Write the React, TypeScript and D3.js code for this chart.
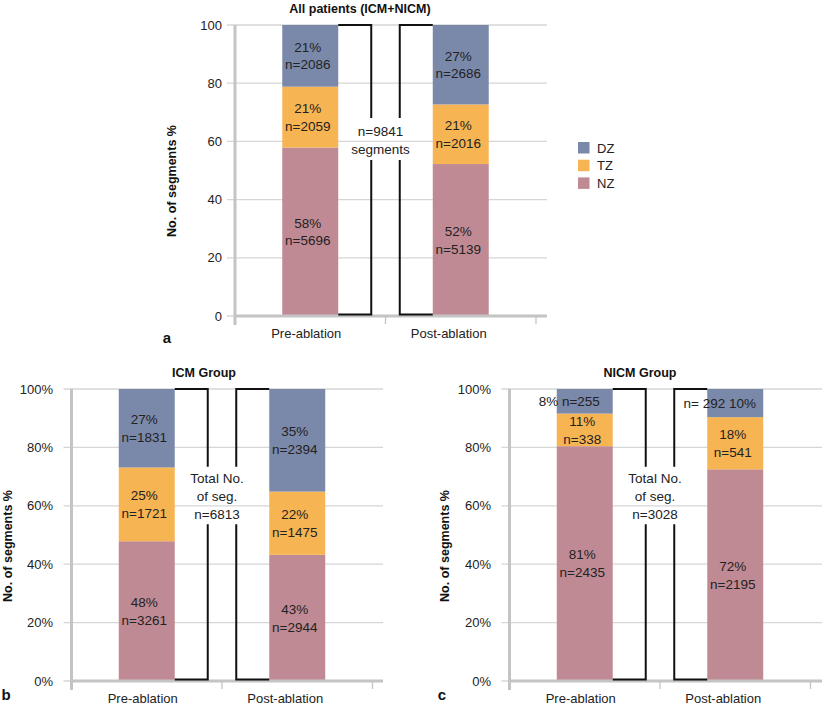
import React from "react";
import * as d3 from "d3";

const categories = ["Pre-ablation", "Post-ablation"];
const zoneKeys = ["NZ", "TZ", "DZ"];
const legendKeys = ["DZ", "TZ", "NZ"];
const yTicks = [0, 20, 40, 60, 80, 100];

// All patients
const allNZ = [5696, 5139];
const allTZ = [2059, 2016];
const allDZ = [2086, 2686];
const allNZPct = ["58%", "52%"];
const allTZPct = ["21%", "21%"];
const allDZPct = ["21%", "27%"];

// ICM group
const icmNZ = [3261, 2944];
const icmTZ = [1721, 1475];
const icmDZ = [1831, 2394];
const icmNZPct = ["48%", "43%"];
const icmTZPct = ["25%", "22%"];
const icmDZPct = ["27%", "35%"];

// NICM group
const nicmNZ = [2435, 2195];
const nicmTZ = [338, 541];
const nicmDZ = [255, 292];
const nicmNZPct = ["81%", "72%"];
const nicmTZPct = ["11%", "18%"];
const nicmDZLine = ["8% n=255", "n= 292 10%"];

const colors: Record<string, string> = { DZ: "#7a89aa", TZ: "#f7b452", NZ: "#c08a94" };
const FONT = "'Liberation Sans', Arial, Helvetica, sans-serif";

type PanelProps = {
  x0: number; yTop: number; yBot: number; gridRight: number;
  title: string; titleX: number; titleY: number;
  yTitleX: number; yTitleY: number; tickGap: number; pct: boolean;
  letter: string; letterX: number; letterY: number;
  nz: number[]; tz: number[]; dz: number[];
  nzPct: string[]; tzPct: string[]; dzPct?: string[]; dzSingle?: string[];
  totalLines: string[]; gap: [number, number]; textCenter: number;
};

function Panel(p: PanelProps) {
  const x = d3.scaleBand<string>().domain(categories).range([p.x0, p.x0 + 301]).padding(0);
  const y = d3.scaleLinear().domain([0, 100]).range([p.yBot, p.yTop]);
  const bw = x.bandwidth();
  const barW = bw * 0.372;
  const rows = categories.map((c, i) => ({ cat: c, NZ: p.nz[i], TZ: p.tz[i], DZ: p.dz[i] }));
  const series = d3.stack<any>().keys(zoneKeys).offset(d3.stackOffsetExpand)(rows);
  const labels: Record<string, string[]> = {
    NZ: p.nzPct, TZ: p.tzPct, DZ: p.dzPct || [],
  };
  const counts: Record<string, number[]> = { NZ: p.nz, TZ: p.tz, DZ: p.dz };

  const preRight = (x(categories[0]) as number) + (bw + barW) / 2;
  const postLeft = (x(categories[1]) as number) + (bw - barW) / 2;
  const bL = preRight + 33;
  const bR = postLeft - 33;
  const yT = y(100);
  const yB = y(0) - 1.5;
  const gTop = y(p.gap[1]);
  const gBot = y(p.gap[0]);
  const tc = y(p.textCenter);
  const tx = (bL + bR) / 2 - 5;

  return (
    <g fontFamily={FONT}>
      {yTicks.map((t) => (
        <g key={t}>
          <line x1={p.x0 - 8} x2={p.gridRight} y1={y(t)} y2={y(t)} stroke="#d6d6d6" strokeWidth={1.3} />
          <text x={p.x0 - p.tickGap} y={y(t)} dy="0.35em" textAnchor="end" fontSize={13} fill="#222">
            {p.pct ? `${t}%` : `${t}`}
          </text>
        </g>
      ))}
      {series.map((s) =>
        s.map((d, i) => {
          const bx = (x(categories[i]) as number) + (bw - barW) / 2;
          const y1 = y(d[1] * 100);
          const y0 = y(d[0] * 100);
          const mid = (y0 + y1) / 2;
          const cx = bx + barW / 2 - 2.5;
          const key = s.key;
          let lines: React.ReactNode = null;
          if (key === "DZ" && p.dzSingle) {
            lines = (
              <text x={cx - 13} y={mid} dy="0.35em" textAnchor="middle" fontSize={13.5} fill="#222">
                {p.dzSingle[i]}
              </text>
            );
          } else {
            lines = (
              <g>
                <text x={cx} y={mid - 8.9} dy="0.35em" textAnchor="middle" fontSize={13.5} fill="#222">
                  {labels[key][i]}
                </text>
                <text x={cx} y={mid + 8.9} dy="0.35em" textAnchor="middle" fontSize={13.5} fill="#222">
                  {`n=${counts[key][i]}`}
                </text>
              </g>
            );
          }
          return (
            <g key={key + i}>
              <rect x={bx} y={y1} width={barW} height={y0 - y1} fill={colors[key]} />
              {lines}
            </g>
          );
        })
      )}
      {/* axes */}
      <line x1={p.x0} x2={p.x0} y1={p.yTop} y2={p.yBot + 9} stroke="#c4c4c4" strokeWidth={3} />
      <line x1={p.x0} x2={p.gridRight} y1={p.yBot} y2={p.yBot} stroke="#c4c4c4" strokeWidth={3} />
      {[0, 1, 2].map((k) => (
        <line key={k} x1={p.x0 + k * bw} x2={p.x0 + k * bw} y1={p.yBot} y2={p.yBot + 8} stroke="#c4c4c4" strokeWidth={1.3} />
      ))}
      {categories.map((c, i) => (
        <text key={c} x={(x(c) as number) + bw / 2 + (i === 0 ? -4 : -12)} y={p.yBot + 17} dy="0.35em"
          textAnchor="middle" fontSize={13} fill="#222">{c}</text>
      ))}
      {/* bracket */}
      <path d={`M${preRight},${yT}H${bL}V${gTop}M${bL},${gBot}V${yB}H${preRight}`} fill="none" stroke="#111" strokeWidth={2} />
      <path d={`M${postLeft},${yT}H${bR}V${gTop}M${bR},${gBot}V${yB}H${postLeft}`} fill="none" stroke="#111" strokeWidth={2} />
      {p.totalLines.map((l, i) => (
        <text key={i} x={tx} y={tc + (i - (p.totalLines.length - 1) / 2) * 18} dy="0.35em" textAnchor="middle"
          fontSize={13.5} fill="#222">{l}</text>
      ))}
      <text x={p.titleX} y={p.titleY} dy="0.35em" textAnchor="middle" fontSize={12.5} fontWeight="bold" fill="#111">{p.title}</text>
      <text transform={`translate(${p.yTitleX},${p.yTitleY}) rotate(-90)`} dy="0.35em" textAnchor="middle" fontSize={12.5}
        fontWeight="bold" fill="#111">No. of segments %</text>
      <text x={p.letterX} y={p.letterY} dy="0.35em" textAnchor="middle" fontSize={15} fontWeight="bold" fill="#111">{p.letter}</text>
    </g>
  );
}

export default function App() {
  return (
    <svg width={822} height={705} style={{ position: "absolute", left: 0, top: 0, background: "#fff" }}>
      <rect width={822} height={705} fill="#fff" />
      <Panel x0={235} yTop={25} yBot={316} gridRight={547}
        title="All patients (ICM+NICM)" titleX={360} titleY={9}
        yTitleX={172} yTitleY={181} tickGap={13} pct={false}
        letter="a" letterX={167} letterY={338}
        nz={allNZ} tz={allTZ} dz={allDZ} nzPct={allNZPct} tzPct={allTZPct} dzPct={allDZPct}
        totalLines={["n=9841", "segments"]} gap={[53.6, 68]} textCenter={60.5} />
      <Panel x0={71.5} yTop={389} yBot={681} gridRight={383}
        title="ICM Group" titleX={204} titleY={373}
        yTitleX={8} yTitleY={546} tickGap={18.5} pct={true}
        letter="b" letterX={6} letterY={695}
        nz={icmNZ} tz={icmTZ} dz={icmDZ} nzPct={icmNZPct} tzPct={icmTZPct} dzPct={icmDZPct}
        totalLines={["Total No.", "of seg.", "n=6813"]} gap={[53.7, 73.4]} textCenter={63.3} />
      <Panel x0={509.5} yTop={389} yBot={681} gridRight={822}
        title="NICM Group" titleX={640} titleY={373}
        yTitleX={445} yTitleY={546} tickGap={18.5} pct={true}
        letter="c" letterX={442} letterY={695}
        nz={nicmNZ} tz={nicmTZ} dz={nicmDZ} nzPct={nicmNZPct} tzPct={nicmTZPct} dzSingle={nicmDZLine}
        totalLines={["Total No.", "of seg.", "n=3028"]} gap={[53.7, 73.4]} textCenter={63.3} />
      <g fontFamily={FONT}>
        {legendKeys.map((k, i) => (
          <g key={k}>
            <rect x={578} y={142 + i * 17.7} width={11.5} height={11.5} fill={colors[k]} />
            <text x={597} y={148 + i * 17.7} dy="0.35em" fontSize={13} fill="#222">{k}</text>
          </g>
        ))}
      </g>
    </svg>
  );
}
